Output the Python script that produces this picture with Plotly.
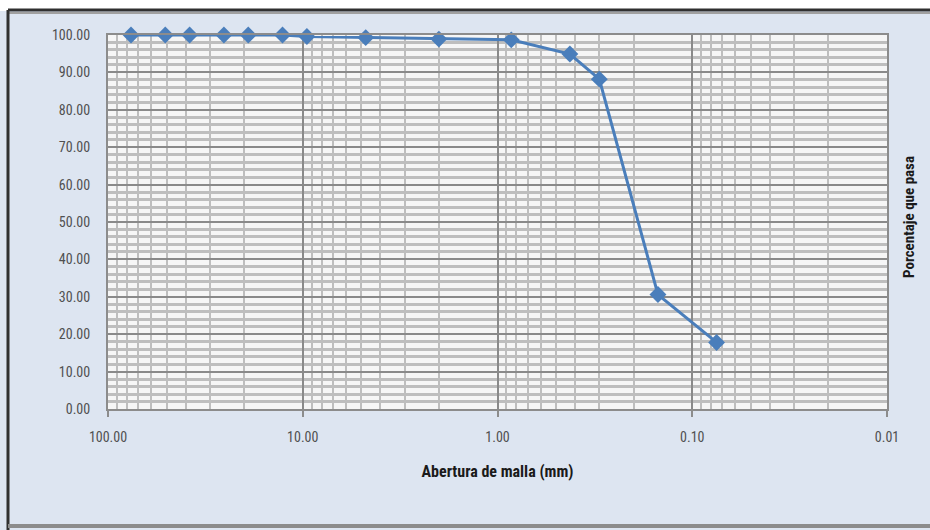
import plotly.graph_objects as go

# Grain size distribution: sieve openings (mm) and percentage passing
abertura_mm = [76.2, 50.8, 38.1, 25.4, 19.05, 12.7, 9.525, 4.75, 2.0, 0.85, 0.425, 0.30, 0.15, 0.075]
porcentaje_pasa = [100.0, 100.0, 100.0, 100.0, 100.0, 100.0, 99.6, 99.3, 98.9, 98.7, 94.9, 88.2, 30.6, 17.8]

x_tick_vals = [100, 10, 1, 0.1, 0.01]
x_tick_text = ["100.00", "10.00", "1.00", "0.10", "0.01"]
x_minor_vals = [m * d for d in (10, 1, 0.1, 0.01) for m in range(2, 10)]

W, H = 930, 530
ML, MR, MT, MB = 108, 43, 35, 121
PW, PH = W - ML - MR, H - MT - MB

FONT = "Roboto Condensed, Liberation Sans Narrow, Roboto, sans-serif"
BLUE = "#4a7ebb"


def px_x(px):
    return (px - ML) / PW


def px_y(py):
    return 1 - (py - MT) / PH


fig = go.Figure()
fig.add_trace(go.Scatter(
    x=abertura_mm,
    y=porcentaje_pasa,
    mode="lines+markers",
    line=dict(color=BLUE, width=3),
    marker=dict(symbol="diamond", size=13, color=BLUE),
    showlegend=False,
    cliponaxis=False,
))

fig.update_xaxes(
    type="log",
    range=[2, -2],
    tickmode="array",
    tickvals=x_tick_vals,
    ticktext=x_tick_text,
    ticks="outside",
    ticklen=6,
    tickwidth=2,
    tickcolor="#8c8c8c",
    ticklabelstandoff=8,
    showgrid=True,
    gridcolor="#8a8a8a",
    gridwidth=2,
    minor=dict(tickmode="array", tickvals=x_minor_vals, showgrid=True,
               gridcolor="#bebebe", gridwidth=2, ticks=""),
    showline=True,
    linecolor="#8c8c8c",
    linewidth=2,
    mirror=True,
    zeroline=False,
    tickfont=dict(family=FONT, size=14, color="#505050"),
    title=dict(text="<b>Abertura de malla (mm)</b>",
               font=dict(family=FONT, size=16, color="#1a1a1a"), standoff=22),
)

fig.update_yaxes(
    range=[0, 100],
    dtick=10,
    tickformat=".2f",
    showgrid=True,
    gridcolor="#8a8a8a",
    gridwidth=2,
    minor=dict(dtick=2, showgrid=True, gridcolor="#bebebe", gridwidth=3, ticks=""),
    showline=True,
    linecolor="#8c8c8c",
    linewidth=2,
    mirror=True,
    zeroline=False,
    ticks="",
    ticklabelstandoff=13,
    tickfont=dict(family=FONT, size=14, color="#505050"),
)

# Right-hand axis caption
fig.add_annotation(
    x=px_x(920), y=px_y(217), xref="paper", yref="paper",
    xanchor="right", yanchor="middle",
    text="<b>Porcentaje que pasa</b>", textangle=-90, showarrow=False,
    font=dict(family=FONT, size=15, color="#1a1a1a"),
)

# Outer frame of the chart panel
fig.add_shape(type="rect", xref="paper", yref="paper",
              x0=px_x(-5), x1=px_x(W + 5), y0=px_y(11), y1=px_y(-5),
              fillcolor="white", line=dict(width=0), layer="below")
fig.add_shape(type="line", xref="paper", yref="paper",
              x0=px_x(8), x1=px_x(W + 5), y0=px_y(10), y1=px_y(10),
              line=dict(color="#303030", width=3))
fig.add_shape(type="line", xref="paper", yref="paper",
              x0=px_x(8), x1=px_x(W + 5), y0=px_y(13), y1=px_y(13),
              line=dict(color="#a0a0a0", width=2))
fig.add_shape(type="line", xref="paper", yref="paper",
              x0=px_x(8), x1=px_x(8), y0=px_y(10), y1=px_y(H + 5),
              line=dict(color="#303030", width=3))
fig.add_shape(type="line", xref="paper", yref="paper",
              x0=px_x(8), x1=px_x(W + 5), y0=px_y(526), y1=px_y(526),
              line=dict(color="#8c8c8c", width=4))

fig.update_layout(
    width=W,
    height=H,
    margin=dict(l=ML, r=MR, t=MT, b=MB, pad=0),
    paper_bgcolor="#dde5f1",
    plot_bgcolor="#f6f6f6",
    font=dict(family=FONT),
)

fig.write_html("out.html")
